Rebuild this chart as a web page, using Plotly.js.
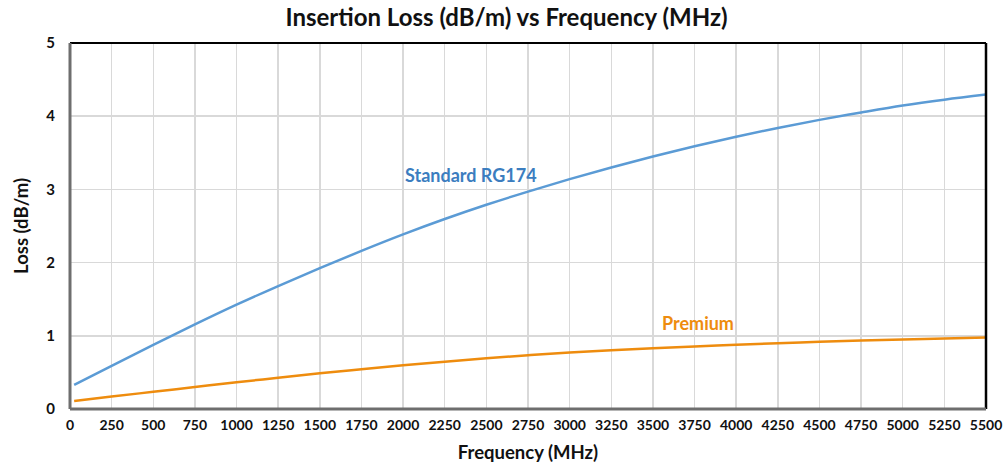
<!DOCTYPE html>
<html>
<head>
<meta charset="utf-8">
<script src="https://cdn.plot.ly/plotly-3.0.1.min.js"></script>
<style>html,body{margin:0;padding:0;background:#fff;}#chart{width:1003px;height:466px;}</style>
</head>
<body>
<div id="chart"></div>
<script>
const frequency = [25, 250, 500, 750, 1000, 1250, 1500, 1750, 2000, 2250, 2500, 2750, 3000, 3250, 3500, 3750, 4000, 4250, 4500, 4750, 5000, 5250, 5500];
const standardRG174 = [0.33, 0.59, 0.875, 1.155, 1.425, 1.68, 1.925, 2.16, 2.385, 2.595, 2.79, 2.97, 3.14, 3.30, 3.45, 3.59, 3.72, 3.84, 3.95, 4.05, 4.145, 4.225, 4.295];
const premium = [0.11, 0.17, 0.235, 0.30, 0.365, 0.427, 0.487, 0.544, 0.597, 0.647, 0.693, 0.735, 0.773, 0.803, 0.830, 0.855, 0.878, 0.899, 0.918, 0.935, 0.950, 0.964, 0.977];
const xTicks = [0, 250, 500, 750, 1000, 1250, 1500, 1750, 2000, 2250, 2500, 2750, 3000, 3250, 3500, 3750, 4000, 4250, 4500, 4750, 5000, 5250, 5500];
const yTicks = [0, 1, 2, 3, 4, 5];

const FONT = "Lato, 'Open Sans', sans-serif";
const traces = [
  {x: frequency, y: standardRG174, mode: 'lines', line: {color: '#5b9bd5', width: 2.5, shape: 'spline'}, name: 'Standard RG174'},
  {x: frequency, y: premium, mode: 'lines', line: {color: '#ee8c0e', width: 2.5, shape: 'spline'}, name: 'Premium'}
];
const layout = {
  width: 1003, height: 466,
  margin: {l: 70, r: 17, t: 43, b: 57},
  paper_bgcolor: '#fff', plot_bgcolor: '#fff',
  showlegend: false,
  font: {family: FONT, color: '#000'},
  title: {text: '<b>Insertion Loss (dB/m) vs Frequency (MHz)</b>', font: {size: 24, family: FONT, color: '#111'}, x: 0.505, xanchor: 'center', y: 0.962, yanchor: 'middle'},
  xaxis: {
    range: [0, 5500], tickvals: xTicks, ticktext: xTicks.map(v => '<b>' + v + '</b>'),
    showgrid: true, gridcolor: '#d9d9d9', gridwidth: 1.5, zeroline: false,
    showline: false, ticks: '', ticklabelstandoff: 6, ticklabeloverflow: 'allow',
    tickfont: {size: 14, family: FONT, color: '#111'},
    title: {text: '<b>Frequency (MHz)</b>', font: {size: 18.5, family: FONT, color: '#111'}, standoff: 14}
  },
  yaxis: {
    range: [0, 5], tickvals: yTicks, ticktext: yTicks.map(v => '<b>' + v + '</b>'),
    showgrid: true, gridcolor: '#d9d9d9', gridwidth: 1.5, zeroline: false,
    showline: false, ticks: '', ticklabelstandoff: 14, tickfont: {size: 15, family: FONT, color: '#111'},
    title: {text: '<b>Loss (dB/m)</b>', font: {size: 18.5, family: FONT, color: '#111'}, standoff: 12}
  },
  shapes: [
    {type: 'line', xref: 'paper', yref: 'paper', x0: 0, x1: 1, y0: 1, y1: 1, line: {color: '#000', width: 2}},
    {type: 'line', xref: 'paper', yref: 'paper', x0: 1, x1: 1, y0: 0, y1: 1, line: {color: '#000', width: 2.5}},
    {type: 'line', xref: 'paper', yref: 'paper', x0: 0, x1: 0, y0: 0, y1: 1, line: {color: '#6e6e6e', width: 3}},
    {type: 'line', xref: 'paper', yref: 'paper', x0: 0, x1: 1, y0: 0, y1: 0, line: {color: '#6e6e6e', width: 3}}
  ],
  annotations: [
    {x: 2410, y: 3.2, xref: 'x', yref: 'y', text: '<b>Standard RG174</b>', showarrow: false, font: {size: 18, family: FONT, color: '#3b7dbf'}},
    {x: 3770, y: 1.17, xref: 'x', yref: 'y', text: '<b>Premium</b>', showarrow: false, font: {size: 18, family: FONT, color: '#ee8c0e'}}
  ]
};
Plotly.newPlot('chart', traces, layout, {displayModeBar: false, staticPlot: true});
</script>
</body>
</html>
